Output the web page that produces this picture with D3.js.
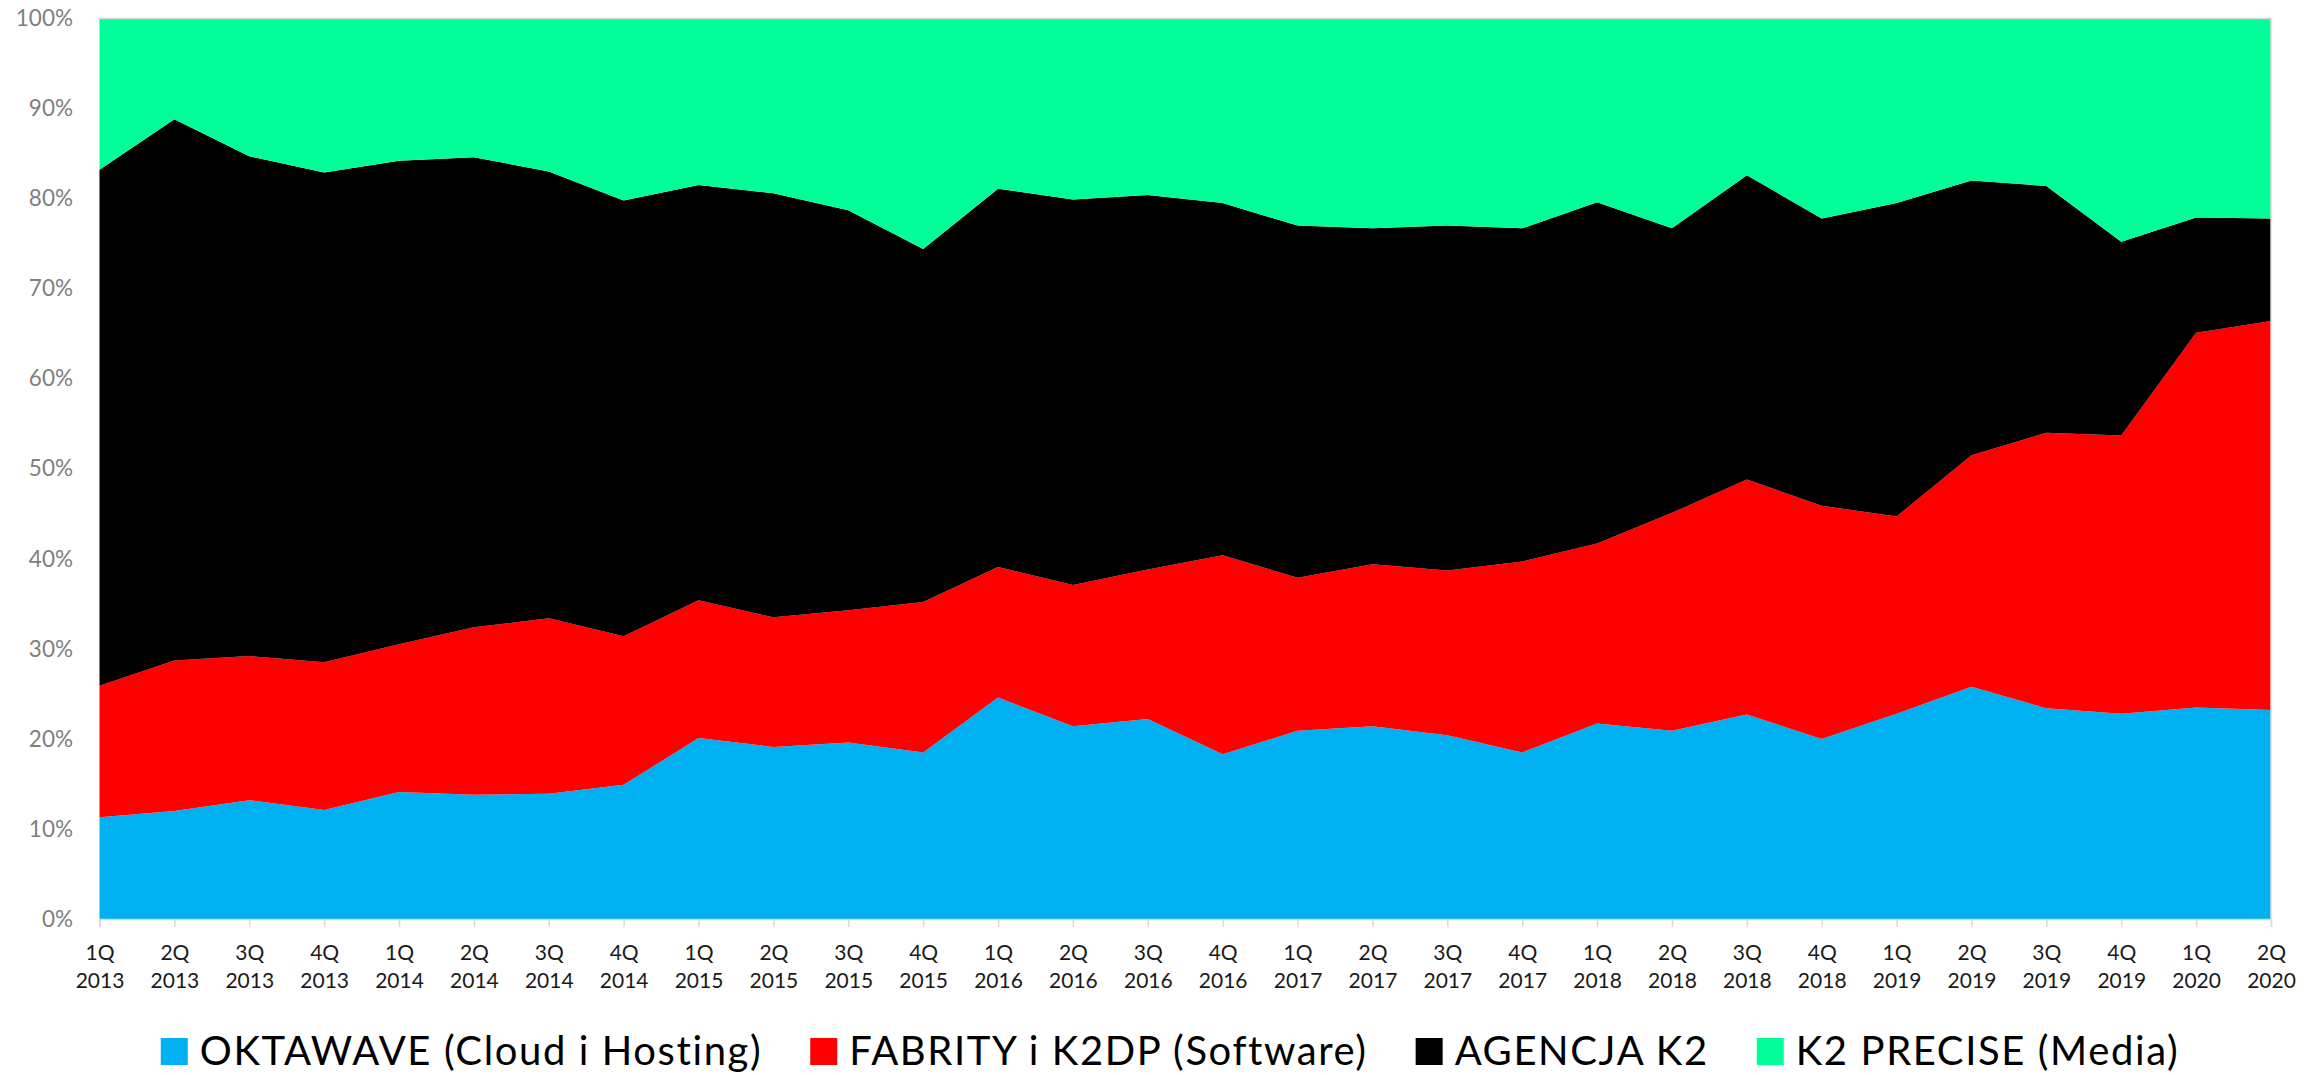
<!DOCTYPE html>
<html>
<head>
<meta charset="utf-8">
<script src="https://cdn.jsdelivr.net/npm/d3@7"></script>
<style>
  html, body { margin: 0; padding: 0; background: #ffffff; }
  svg { display: block; font-family: Lato, "Open Sans", sans-serif; }
</style>
</head>
<body>
<svg id="chart" width="2321" height="1075"></svg>
<script>
// Quarterly revenue share by business segment (stacked to 100%)
const quarters = [
  "1Q 2013","2Q 2013","3Q 2013","4Q 2013",
  "1Q 2014","2Q 2014","3Q 2014","4Q 2014",
  "1Q 2015","2Q 2015","3Q 2015","4Q 2015",
  "1Q 2016","2Q 2016","3Q 2016","4Q 2016",
  "1Q 2017","2Q 2017","3Q 2017","4Q 2017",
  "1Q 2018","2Q 2018","3Q 2018","4Q 2018",
  "1Q 2019","2Q 2019","3Q 2019","4Q 2019",
  "1Q 2020","2Q 2020"
];

const oktawave = [11.3,12.0,13.2,12.1,14.1,13.8,13.9,14.9,20.1,19.1,19.6,18.5,24.6,21.4,22.2,18.3,20.9,21.4,20.4,18.5,21.7,20.9,22.7,20.0,22.8,25.8,23.4,22.8,23.5,23.2];
const fabrity  = [14.6,16.7,16.0,16.4,16.4,18.6,19.5,16.5,15.3,14.4,14.7,16.7,14.5,15.7,16.6,22.1,17.0,18.0,18.3,21.2,20.0,24.2,26.1,25.9,21.9,25.7,30.6,30.9,41.6,43.2];
const agencja  = [57.3,60.1,55.5,54.4,53.7,52.2,49.6,48.4,46.1,47.1,44.4,39.2,42.0,42.8,41.6,39.1,39.1,37.3,38.3,37.0,37.9,31.6,33.8,31.9,34.8,30.5,27.4,21.5,12.8,11.4];
const precise  = [16.8,11.2,15.3,17.1,15.8,15.4,17.0,20.2,18.5,19.4,21.3,25.6,18.9,20.1,19.6,20.5,23.0,23.3,23.0,23.3,20.4,23.3,17.4,22.2,20.5,18.0,18.6,24.8,22.1,22.2];

const seriesNames = [
  "OKTAWAVE (Cloud i Hosting)",
  "FABRITY i K2DP (Software)",
  "AGENCJA K2",
  "K2 PRECISE (Media)"
];
const seriesColors = ["#00B0F0", "#FF0000", "#000000", "#00FF99"];
const yTicks = [0, 0.1, 0.2, 0.3, 0.4, 0.5, 0.6, 0.7, 0.8, 0.9, 1.0];

// Table for d3.stack
const keys = ["oktawave", "fabrity", "agencja", "precise"];
const table = quarters.map((q, i) => ({
  q,
  oktawave: oktawave[i],
  fabrity: fabrity[i],
  agencja: agencja[i],
  precise: precise[i]
}));

const stacked = d3.stack()
  .keys(keys)
  .offset(d3.stackOffsetExpand)(table);

const svg = d3.select("#chart");
const margin = { left: 99.5, right: 2271, top: 18.5, bottom: 919 };

const x = d3.scalePoint()
  .domain(quarters)
  .range([margin.left, margin.right]);

const y = d3.scaleLinear()
  .domain([0, 1])
  .range([margin.bottom, margin.top]);

const area = d3.area()
  .x(d => x(d.data.q))
  .y0(d => y(d[0]))
  .y1(d => y(d[1]));

// Stacked areas
svg.append("g")
  .selectAll("path")
  .data(stacked)
  .join("path")
  .attr("d", area)
  .attr("fill", (d, i) => seriesColors[i]);

// Plot frame (top and right edges)
svg.append("path")
  .attr("d", `M${margin.left},${margin.top}H${margin.right}V${margin.bottom}`)
  .attr("fill", "none")
  .attr("stroke", "#d9d9d9")
  .attr("stroke-width", 1.5);

// Y axis labels
const yAxis = d3.axisLeft(y)
  .tickValues(yTicks)
  .tickFormat(d3.format(".0%"))
  .tickSize(0)
  .tickPadding(0);

const gy = svg.append("g")
  .attr("transform", "translate(73,0)")
  .call(yAxis);
gy.select(".domain").remove();
gy.selectAll("text")
  .attr("fill", "#7f7f7f")
  .attr("font-size", 22.5)
  .attr("font-family", "Lato, sans-serif");

// X axis with ticks below and two-line labels
const xAxis = d3.axisBottom(x)
  .tickSize(8)
  .tickPadding(0)
  .tickFormat("");

const gx = svg.append("g")
  .attr("transform", `translate(0,${margin.bottom})`)
  .call(xAxis);
gx.select(".domain")
  .attr("stroke", "#d9d9d9")
  .attr("stroke-width", 1.5);
gx.selectAll(".tick line")
  .attr("stroke", "#d9d9d9")
  .attr("stroke-width", 1.5);

gx.selectAll(".tick")
  .each(function(d) {
    const parts = d.split(" ");
    const t = d3.select(this).append("text")
      .attr("fill", "#1a1a1a")
      .attr("font-size", 21)
      .attr("font-family", "Lato, sans-serif")
      .attr("text-anchor", "middle");
    t.append("tspan").attr("x", 0).attr("y", 41).text(parts[0]);
    t.append("tspan").attr("x", 0).attr("y", 69).text(parts[1]);
  });

// Legend
const legend = svg.append("g");
const items = legend.selectAll("g")
  .data(seriesNames)
  .join("g");

items.append("rect")
  .attr("width", 27)
  .attr("height", 27)
  .attr("y", 1038)
  .attr("fill", (d, i) => seriesColors[i]);

items.append("text")
  .attr("x", 39)
  .attr("y", 1065)
  .attr("font-size", 40)
  .attr("letter-spacing", 1.6)
  .attr("font-family", "Lato, sans-serif")
  .attr("fill", "#000000")
  .text(d => d);

let offsets = [];
let cursor = 0;
items.each(function() {
  const w = 39 + d3.select(this).select("text").node().getComputedTextLength();
  offsets.push(cursor);
  cursor += w + 48;
});
const totalW = cursor - 48;
const startX = 1170 - totalW / 2;
items.attr("transform", (d, i) => `translate(${startX + offsets[i]},0)`);
</script>
</body>
</html>
